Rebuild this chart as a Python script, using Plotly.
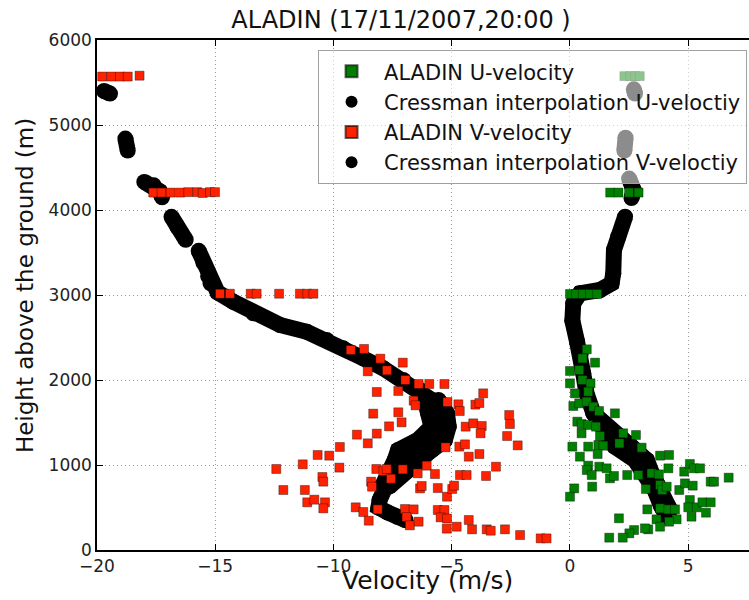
import plotly.graph_objects as go

# ==========================
# Datos
# ==========================

# ALADIN V-velocity (cuadrados rojos)
v_x = [-19.78, -19.4, -19.03, -18.7, -18.2,
       -17.62, -17.27, -16.89, -16.49, -16.14, -15.76, -15.53, -15.22, -15.01,
       -14.8, -14.38, -13.5, -13.25, -12.3, -11.42, -11.11, -10.85,
       -9.27, -8.71, -8.02, -7.07, -8.55, -7.74, -6.96, -6.4, -5.95, -5.31,
       -8.17, -7.26, -6.61, -6.53, -5.18, -4.72, -4.66, -4.0, -3.83, -3.67,
       -8.32, -7.26, -7.12, -7.65, -9.01, -8.17, -8.55, -9.73, -10.67, -10.18,
       -9.75, -11.3, -12.42, -12.12, -11.21, -11.11, -10.81, -10.47, -10.43,
       -10.36, -10.43, -9.06, -8.74, -8.51, -8.19, -7.89, -7.75, -8.41, -8.37,
       -8.13, -7.57, -7.07, -6.98, -6.61, -6.91, -6.77, -6.4, -6.44, -6.34,
       -6.27, -6.06, -5.71, -5.59, -5.26, -5.59, -5.31, -5.47, -5.21, -5.2,
       -5.2, -4.98, -4.9, -4.68, -4.44, -4.28, -4.41, -4.09, -3.73, -3.78,
       -3.83, -4.65, -4.37, -3.55, -3.13, -4.79, -4.28, -4.14, -3.52, -3.35,
       -2.75, -2.11, -1.24, -0.99, -2.57, -2.54, -2.66, -2.21]
v_y = [5570, 5570, 5570, 5570, 5580,
       4205, 4205, 4205, 4205, 4210, 4210, 4200, 4210, 4210,
       3015, 3015, 3015, 3015, 3015, 3015, 3015, 3015,
       2353, 2365, 2251, 2204, 2102, 2114, 2000, 1953, 1953, 1953,
       1859, 1871, 1757, 1702, 1741, 1714, 1635, 1710, 1729, 1843,
       1604, 1620, 1502, 1455, 1357, 1369, 1255, 1212, 1118, 1110,
       969, 1008, 953, 706, 706, 561, 592, 859, 804,
       561, 490, 502, 447, 345, 953, 929, 953, 804, 745,
       478, 839, 949, 482, 478, 388, 290, 333, 902, 725,
       753, 992, 894, 729, 1208, 471, 471, 384, 251, 370,
       627, 718, 757, 1216, 1243, 1098, 1451, 1490, 1459, 1373,
       1129, 882, 882, 871, 980, 274, 353, 243, 243, 227,
       243, 176, 137, 137, 1588, 1482, 1341, 1231]

# ALADIN U-velocity (cuadrados verdes)
u_x = [2.3, 2.55, 2.75, 2.95,
       1.7, 2.05, 2.5, 2.9,
       0.0, 0.25, 0.55, 0.85, 1.15,
       0.71, 0.53, 1.06, 0.0, 0.39, 0.53, 0.0, 0.87, 0.77, 0.21,
       0.14, 0.39, 0.71, 0.99, 1.23, 1.9, 0.31, 0.49, 0.77, 1.1,
       0.49, 1.27, 2.25, 2.79, 0.1, 0.77, 1.2, 1.41, 2.09, 3.03,
       0.42, 1.17, 3.81, 4.19, 0.77, 0.71, 1.24, 1.55, 0.92, 1.69,
       1.86, 2.42, 2.89, 3.45, 3.76, 4.16, 0.94, 0.18, 0.0, 3.21,
       3.81, 3.9, 4.09, 4.62, 4.83, 5.07, 5.24, 5.5, 4.86, 5.19,
       5.95, 6.09, 6.71, 3.27, 3.81, 4.16, 4.44, 5.07, 5.0, 5.36,
       5.6, 5.95, 5.75, 5.14, 4.51, 3.66, 4.19, 3.81, 3.31, 3.17,
       2.71, 2.51, 2.23, 2.07, 1.66]
u_y = [5575, 5575, 5575, 5575,
       4205, 4205, 4205, 4205,
       3012, 3012, 3012, 3012, 3012,
       2361, 2255, 2204, 2106, 2118, 2000, 1961, 1961, 1863, 1843,
       1694, 1725, 1745, 1686, 1635, 1608, 1510, 1482, 1471, 1451,
       1373, 1341, 1373, 1353, 1216, 1216, 1235, 1227, 1255, 1204,
       1098, 1129, 1110, 1118, 992, 941, 980, 961, 882, 843,
       871, 882, 882, 902, 890, 961, 745, 725, 627, 718,
       765, 706, 745, 706, 922, 1012, 961, 961, 784, 757,
       804, 804, 851, 478, 490, 478, 478, 588, 502, 502,
       561, 561, 439, 392, 361, 361, 333, 274, 243, 255,
       235, 196, 145, 373, 145]

# Cressman interpolation V (None = hueco entre tramos)
cv_x = [-19.7, -19.45, None,
        -18.8, -18.7, None,
        -18.0, -17.6, -17.35, -17.25, None,
        -16.85, -16.6, -16.25, None,
        -15.7, -15.5, -15.3, -15.2, -14.9, -14.24, -13.39, -12.26, -11.13,
        -10.29, -9.59, -8.74, -7.89, -7.05, -6.34, -5.85, -5.6, -5.5, -5.86,
        -6.55, -6.9, -7.4, -7.8, -8.05, -8.1, -7.7, -7.3, -6.95, None,
        -6.14, -6.0, -5.86, -6.43, -7.27, -7.41, -7.69, -7.96, None,
        -5.56, -5.2, -5.13, -5.29, -5.84, -6.4, -7.11, -7.64]
cv_y = [5400, 5370, None,
        4840, 4700, None,
        4330, 4290, 4220, 4150, None,
        3920, 3800, 3650, None,
        3520, 3380, 3220, 3137, 3030, 2921, 2784, 2647, 2568,
        2471, 2373, 2255, 2137, 2000, 1882, 1765, 1608, 1451, 1294,
        1176, 1059, 902, 745, 588, 500, 440, 390, 350, None,
        1765, 1608, 1451, 1294, 1176, 1059, 902, 745, None,
        1765, 1608, 1451, 1294, 1176, 1059, 902, 745]

# Cressman interpolation U
cu_x = [2.7, 2.75, None,
        2.35, 2.3, None,
        2.5, 2.6, 2.7, 2.6, None,
        2.33, 2.04, 1.86, 1.83, 1.76, 1.27, 0.42, 0.14, 0.1, 0.3, 0.45,
        0.56, 0.7, 0.99, 1.54, 1.89, 2.74, 3.16, 3.58, 3.86, 4.1, None,
        0.99, 1.92, 2.62, 3.25, 3.47, 3.89, 4.17, 4.17]
cu_y = [5420, 5370, None,
        4850, 4700, None,
        4370, 4300, 4230, 4140, None,
        3921, 3686, 3529, 3255, 3137, 3059, 3020, 2902, 2700, 2450, 2300,
        2078, 1843, 1608, 1373, 1216, 1059, 902, 706, 510, 392, None,
        1608, 1373, 1216, 1059, 902, 706, 510, 400]

x_ticks = [-20, -15, -10, -5, 0, 5]
y_ticks = [0, 1000, 2000, 3000, 4000, 5000, 6000]

FONT = "DejaVu Sans"
BAND = 16

fig = go.Figure()

# bandas negras de Cressman (debajo de los cuadrados)
for name, xs, ys, rank in [("Cressman interpolation U-veloctiy", cu_x, cu_y, 2),
                           ("Cressman interpolation V-veloctiy", cv_x, cv_y, 4)]:
    fig.add_trace(go.Scatter(x=xs, y=ys, mode="lines", connectgaps=False,
                             line=dict(color="black", width=BAND),
                             showlegend=False, hoverinfo="skip"))
    fig.add_trace(go.Scatter(x=xs, y=ys, mode="markers", name=name, legendrank=rank,
                             marker=dict(symbol="circle", size=BAND, color="black",
                                         line=dict(width=0))))

fig.add_trace(go.Scatter(x=u_x, y=u_y, mode="markers", name="ALADIN U-velocity",
                         legendrank=1,
                         marker=dict(symbol="square", size=9, color="#008000",
                                     line=dict(color="rgba(0,0,0,0.6)", width=0.6))))
fig.add_trace(go.Scatter(x=v_x, y=v_y, mode="markers", name="ALADIN V-velocity",
                         legendrank=3,
                         marker=dict(symbol="square", size=9, color="#ff2200",
                                     line=dict(color="rgba(0,0,0,0.6)", width=0.6))))

axis_common = dict(showline=True, linecolor="black", linewidth=1.5,
                   ticks="inside", ticklen=6, tickcolor="black", automargin=False,
                   showgrid=True, gridcolor="#9a9a9a", griddash="1px,3px", gridwidth=1,
                   zeroline=False, tickfont=dict(family=FONT, size=17, color="#222"))

fig.update_xaxes(range=[-20, 7.57], tickvals=x_ticks, mirror="ticks", **axis_common)
fig.update_yaxes(range=[0, 6000], tickvals=y_ticks, mirror=False, **axis_common)

fig.update_layout(
    width=749, height=600,
    margin=dict(l=97, r=0, t=40, b=50),
    plot_bgcolor="white", paper_bgcolor="white",
    font=dict(family=FONT, color="#111"),
    hovermode=False,
    title=dict(text="ALADIN (17/11/2007,20:00 )", x=0.5354, xanchor="center",
               y=0.968, yanchor="middle", font=dict(family=FONT, size=24, color="#111")),
    legend=dict(x=0.997, xanchor="right", y=0.98, yanchor="top",
                bgcolor="rgba(255,255,255,0.55)", bordercolor="#a0a0a0", borderwidth=1,
                font=dict(family=FONT, size=21, color="#111"), traceorder="normal",
                itemsizing="constant", itemwidth=55),
    annotations=[
        dict(text="Velocity (m/s)", xref="paper", yref="paper",
             x=0.507, y=-0.059, xanchor="center", yanchor="middle",
             showarrow=False, font=dict(family=FONT, size=25, color="#111")),
        dict(text="Height above the ground (m)", xref="paper", yref="paper",
             x=-0.110, y=0.518, xanchor="center", yanchor="middle", textangle=-90,
             showarrow=False, font=dict(family=FONT, size=23, color="#111")),
    ],
)

# sin margen en la página para que la figura ocupe toda la ventana
fig.write_html("out.html",
               config={"displayModeBar": False},
               post_script="document.body.style.margin='0';"
                           "document.documentElement.style.overflow='hidden';")
